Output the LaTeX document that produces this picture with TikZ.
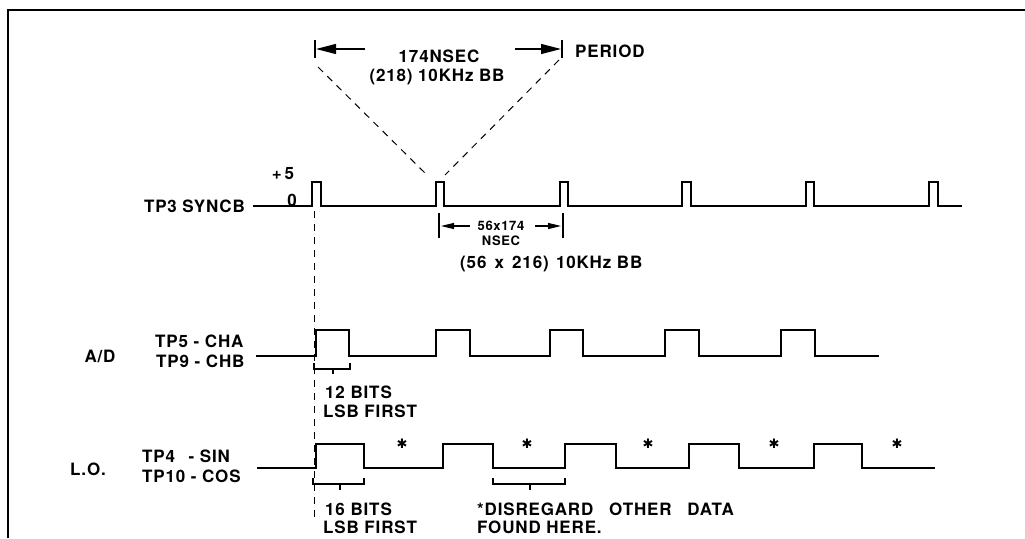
\documentclass[tikz,border=0pt]{standalone}
\usepackage{fontspec}
\setsansfont{TeX Gyre Heros}[LetterSpace=5]
\newfontfamily\djv{DejaVu Sans}
\usetikzlibrary{arrows.meta}
\begin{document}
\begin{tikzpicture}[x=1pt,y=-1pt,
  wave/.style={line width=1.5pt, line join=miter},
  frame/.style={line width=1.3pt},
  lab/.style={font=\sffamily\bfseries\fontsize{17}{19}\selectfont, inner sep=0pt},
  smalllab/.style={font=\sffamily\bfseries\fontsize{13}{15}\selectfont, inner sep=0pt},
  astlab/.style={font=\djv\fontsize{13}{15}\selectfont, inner sep=0pt},
  dimline/.style={line width=1.2pt},
  guide/.style={line width=1pt, dash pattern=on 7pt off 6pt},
  bigarrow/.style={dimline, -{Triangle[length=20pt,width=10pt]}},
  smallarrow/.style={dimline, -{Triangle[length=13pt,width=6pt]}}]
\useasboundingbox (0,0) rectangle (1025,538);
% frame
\draw[frame] (8,538) -- (8,10) -- (1025,10);

% ---------- top period dimension ----------
\coordinate (tlt) at (315,40); \coordinate (tlb) at (315,58);
\coordinate (trt) at (562,40); \coordinate (trb) at (562,58);
\draw[dimline] (tlt) -- (tlb);
\draw[dimline] (trt) -- (trb);
\coordinate (la0) at (365,49); \coordinate (la1) at (316,49);
\coordinate (ra0) at (515,49); \coordinate (ra1) at (561,49);
\draw[bigarrow] (la0) -- (la1);
\draw[bigarrow] (ra0) -- (ra1);
\node[lab, anchor=base] (nsec) at (439,62) {174NSEC};
\node[lab, anchor=base] (bb1) at (437,81) {(218) 10KHz BB};
\node[lab, anchor=base west] (period) at (575,57) {PERIOD};
% dashed V
\coordinate (vl) at (318,67); \coordinate (vp1) at (427,175);
\coordinate (vr) at (559,60); \coordinate (vp2) at (445,175);
\draw[guide] (vl) -- (vp1);
\draw[guide] (vr) -- (vp2);

% ---------- TP3 SYNCB ----------
\node[lab, anchor=base east] (tp3) at (245,212) {TP3 SYNCB};
\node[lab, anchor=base] (p5) at (283,179) {+\,5};
\node[lab, anchor=base] (z0) at (292,206) {0};
\draw[wave] (253,206) -- (312,206) |- (321,182) |- (436,206) |- (444,182) |- (560,206)
  |- (568,182) |- (682,206) |- (691,182) |- (806,206) |- (814,182) |- (929,206)
  |- (938,182) |- (962,206);

% 56x174 dimension
\coordinate (dlt) at (439,213); \coordinate (dlb) at (439,238);
\coordinate (drt) at (563,213); \coordinate (drb) at (563,238);
\draw[dimline] (dlt) -- (dlb);
\draw[dimline] (drt) -- (drb);
\coordinate (sa0) at (470,226); \coordinate (sa1) at (441,226);
\coordinate (sb0) at (535,226); \coordinate (sb1) at (561,226);
\draw[smallarrow] (sa0) -- (sa1);
\draw[smallarrow] (sb0) -- (sb1);
\node[smalllab, anchor=base] (n56) at (501,230) {56x174};
\node[smalllab, anchor=base] (nn) at (501,245) {NSEC};
\node[lab, anchor=base west] (bb2) at (460,268) {(56\hspace{0.15em} x\hspace{0.15em} 216)\hspace{0.1em} 10KHz BB};

% vertical dashed guide
\coordinate (g0) at (314,211); \coordinate (g1) at (314,522);
\draw[guide] (g0) -- (g1);

% ---------- A/D ----------
\node[lab, anchor=base] (ad) at (100,362) {A/D};
\node[lab, anchor=base west] (tp5) at (155,347) {TP5 - CHA};
\node[lab, anchor=base west] (tp9) at (156,367) {TP9 - CHB};
\draw[wave] (256,356) -- (316,356) |- (349,330) |- (436,356) |- (470,330) |- (550,356)
  |- (583,330) |- (665,356) |- (699,330) |- (781,356) |- (815,330) |- (879,356);
% 12 bits bracket
\draw[dimline] (314,363) -- (314,369) -- (350,369) -- (350,363);
\draw[dimline] (333,369) -- (333,374);
\node[lab, anchor=base west] (b12) at (325,398) {12 BITS};
\node[lab, anchor=base west] (lsb1) at (323,417) {LSB FIRST};

% ---------- L.O. ----------
\node[lab, anchor=base] (lo) at (88,475) {L.O.};
\node[lab, anchor=base west] (tp4) at (142,462) {TP4\hspace{0.8em}- SIN};
\node[lab, anchor=base west] (tp10) at (142,482) {TP10 - COS};
\draw[wave] (257,468) -- (316,468) |- (364,444) |- (443,468) |- (493,444) |- (565,468)
  |- (616,444) |- (689,468) |- (739,444) |- (814,468) |- (862,444) |- (935,468);
\foreach \i/\x in {1/402,2/527,3/648,4/774,5/897}
  \node[astlab] (ast\i) at (\x,444) {✱};
% 16 bits bracket
\draw[dimline] (313,478) -- (313,484) -- (364,484) -- (364,478);
\draw[dimline] (340,484) -- (340,490);
\node[lab, anchor=base west] (b16) at (325,515) {16 BITS};
\node[lab, anchor=base west] (lsb2) at (323,533) {LSB FIRST};
% disregard bracket
\draw[dimline] (493,478) -- (493,484) -- (565,484) -- (565,478);
\draw[dimline] (530,484) -- (530,490);
\node[lab, anchor=base west] (dis) at (477,515) {*DISREGARD\hspace{0.6em} OTHER\hspace{0.6em} DATA};
\node[lab, anchor=base west] (found) at (477,533) {FOUND HERE.};
\end{tikzpicture}
\end{document}
